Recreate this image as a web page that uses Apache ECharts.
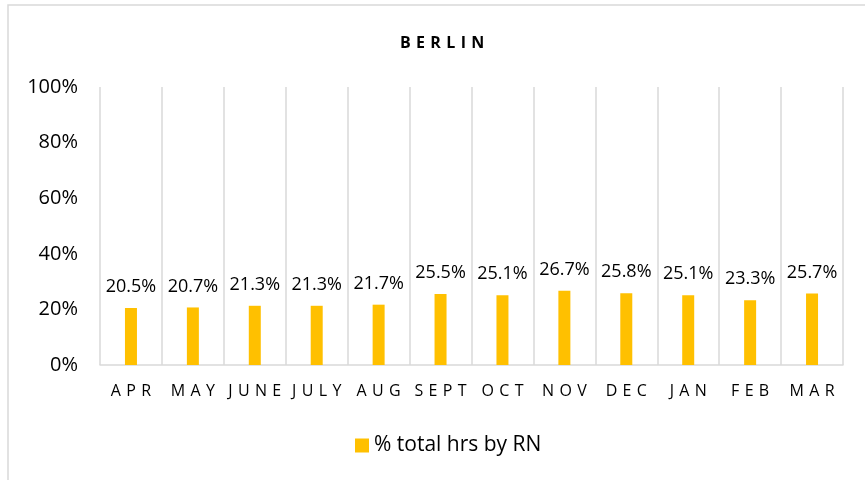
<!DOCTYPE html>
<html><head><meta charset="utf-8">
<script src="https://cdn.jsdelivr.net/npm/echarts@6/dist/echarts.min.js"></script>
<style>html,body{margin:0;padding:0;background:#fff}#c{width:865px;height:480px}</style>
</head><body><div id="c"></div>
<script>
var categories = ['APR','MAY','JUNE','JULY','AUG','SEPT','OCT','NOV','DEC','JAN','FEB','MAR'];
var values = [20.5,20.7,21.3,21.3,21.7,25.5,25.1,26.7,25.8,25.1,23.3,25.7];
var seriesName = '% total hrs by RN';
var titleText = 'BERLIN';
var yTicks = [0,20,40,60,80,100];

var font = "'Open Sans', 'Noto Sans', sans-serif";
var chart = echarts.init(document.getElementById('c'));
chart.setOption({
  animation: false,
  graphic: [{type:'rect', shape:{x:8, y:5, width:900, height:520}, style:{fill:'none', stroke:'#d9d9d9', lineWidth:1.5}, silent:true}],
  title: {text: titleText.split('').join('\u2004'), left: 395, top: 30,
    textStyle:{fontFamily:font, fontWeight:'bold', fontSize:16, color:'#000'}},
  legend: {bottom: 19, left: 350, itemWidth:14, itemHeight:14, icon:'rect', itemGap:6,
    textStyle:{fontFamily:font, fontSize:21, color:'#000'}, data:[seriesName]},
  grid: {left:100, right:22, top:87, bottom:115},
  xAxis: {type:'category', data: categories,
    axisLine:{lineStyle:{color:'#d9d9d9', width:1.5}}, axisTick:{show:false},
    splitLine:{show:true, interval:0, lineStyle:{color:'#d9d9d9', width:1.5}},
    axisLabel:{fontFamily:font, fontSize:16, color:'#000', margin:18, interval:0,
      formatter:function(v){return v.split('').join('\u2004');}}},
  yAxis: {type:'value', min:0, max:100, interval:20,
    axisLine:{show:false}, axisTick:{show:false}, splitLine:{show:false},
    axisLabel:{fontFamily:font, fontSize:20, color:'#000', margin:22, formatter:function(v){return v+'%';}}},
  series: [{name: seriesName, type:'bar', data: values, barWidth:12,
    itemStyle:{color:'#FFC000'},
    label:{show:true, position:'top', distance:12, fontFamily:font, fontSize:18, color:'#000',
      formatter:function(p){return p.value.toFixed(1)+'%';}}}]
});
</script></body></html>
